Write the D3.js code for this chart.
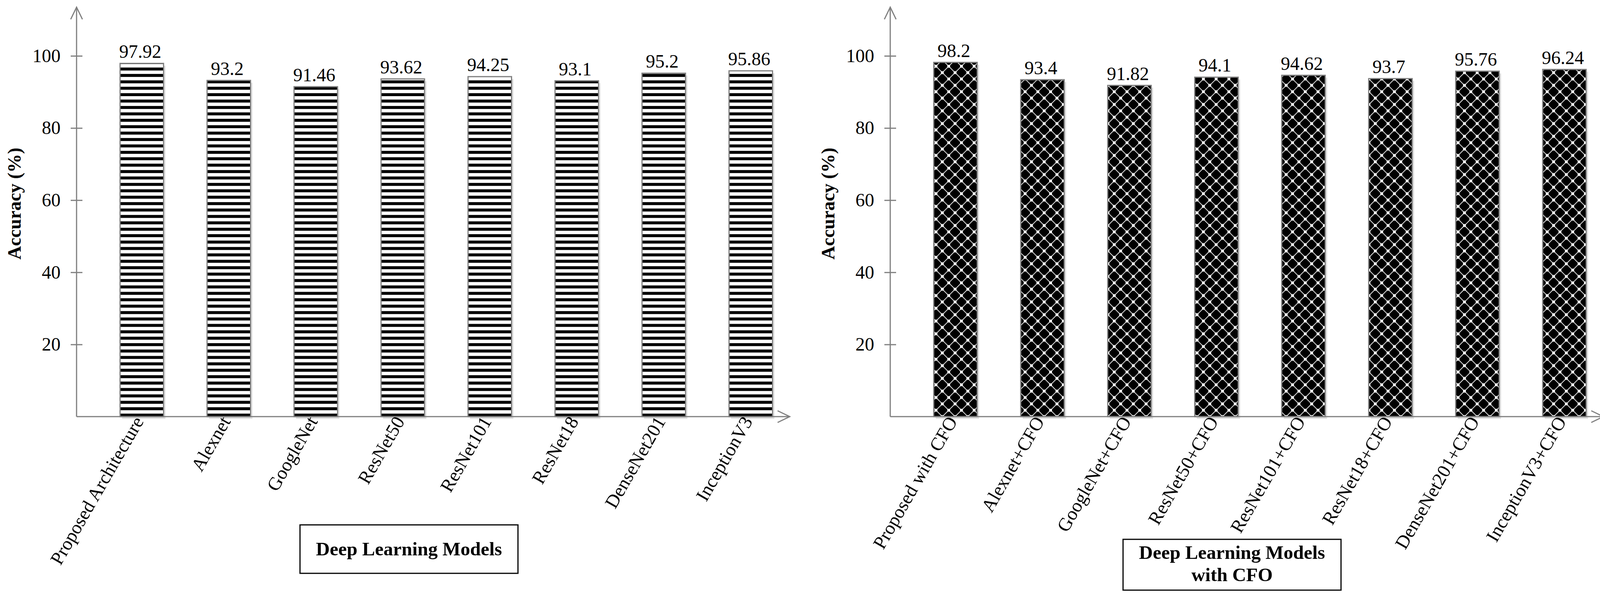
<!DOCTYPE html>
<html>
<head>
<meta charset="utf-8">
<script src="https://cdn.jsdelivr.net/npm/d3@7"></script>
<style>
  body { margin: 0; background: #fff; }
  svg { display: block; }
</style>
</head>
<body>
<div id="chart"></div>
<script>
// data
var leftCategories = ["Proposed Architecture", "Alexnet", "GoogleNet", "ResNet50", "ResNet101", "ResNet18", "DenseNet201", "InceptionV3"];
var leftValues = [97.92, 93.2, 91.46, 93.62, 94.25, 93.1, 95.2, 95.86];

var rightCategories = ["Proposed with CFO", "Alexnet+CFO", "GoogleNet+CFO", "ResNet50+CFO", "ResNet101+CFO", "ResNet18+CFO", "DenseNet201+CFO", "InceptionV3+CFO"];
var rightValues = [98.2, 93.4, 91.82, 94.1, 94.62, 93.7, 95.76, 96.24];

var yTicks = [20, 40, 60, 80, 100];
var yTitle = "Accuracy (%)";
var leftTitle = ["Deep Learning Models"];
var rightTitle = ["Deep Learning Models", "with CFO"];

var W = 4126, H = 1525;
var serif = "'Liberation Serif', 'Times New Roman', serif";
var axisGrey = "#7f7f7f";

var svg = d3.select("#chart").append("svg")
	.attr("width", W)
	.attr("height", H);

svg.append("rect").attr("width", W).attr("height", H).attr("fill", "#fff");

var defs = svg.append("defs");

// horizontal stripes (left panel)
var stripe = defs.append("pattern")
	.attr("id", "stripes")
	.attr("patternUnits", "userSpaceOnUse")
	.attr("width", 20)
	.attr("height", 16.4)
	.attr("y", 1066);
stripe.append("rect").attr("width", 20).attr("height", 16.4).attr("fill", "#fff");
stripe.append("rect").attr("y", 16.4 - 7.6).attr("width", 20).attr("height", 7.6).attr("fill", "#000");

// black trellis with white lattice (right panel)
var s = 32.6;
var trellis = defs.append("pattern")
	.attr("id", "trellis")
	.attr("patternUnits", "userSpaceOnUse")
	.attr("width", s)
	.attr("height", s)
	.attr("y", 1066);
trellis.append("rect").attr("width", s).attr("height", s).attr("fill", "#000");
trellis.append("path")
	.attr("d", "M0,0L" + s + "," + s + "M" + s + ",0L0," + s)
	.attr("stroke", "#fff")
	.attr("stroke-width", 1.8);
[[0, 0], [s, 0], [0, s], [s, s], [s / 2, s / 2]].forEach(function (p) {
	trellis.append("rect")
		.attr("x", p[0] - 3.6).attr("y", p[1] - 3.6)
		.attr("width", 7.2).attr("height", 7.2)
		.attr("fill", "#fff");
});

function drawPanel(opts) {
	var x0 = opts.axisX;
	var xEnd = opts.axisX + 1893;

	var xScale = d3.scaleBand()
		.domain(opts.categories)
		.range([x0, xEnd])
		.paddingInner(0.5)
		.paddingOuter(0.5);

	var yScale = d3.scaleLinear()
		.domain([0, 100])
		.range([1066, 143]);

	var g = svg.append("g");
	var y0 = yScale(0);
	var yTop = yScale(113.5);
	var xTip = xScale(opts.categories[7]) + xScale.bandwidth() + 44;

	// bar shadows
	g.selectAll(".shadow")
		.data(opts.values)
		.enter().append("rect")
		.attr("x", (d, i) => xScale(opts.categories[i]) + 5)
		.attr("y", d => yScale(d) + 6)
		.attr("width", xScale.bandwidth())
		.attr("height", d => y0 - yScale(d))
		.attr("fill", "#e2e2e2");

	// bars
	g.selectAll(".bar")
		.data(opts.values)
		.enter().append("rect")
		.attr("x", (d, i) => xScale(opts.categories[i]))
		.attr("y", d => yScale(d))
		.attr("width", xScale.bandwidth())
		.attr("height", d => y0 - yScale(d))
		.attr("fill", "url(#" + opts.pattern + ")")
		.attr("stroke", axisGrey)
		.attr("stroke-width", 3);

	// value labels
	g.selectAll(".val")
		.data(opts.values)
		.enter().append("text")
		.attr("x", (d, i) => xScale(opts.categories[i]) + xScale.bandwidth() / 2 - 4)
		.attr("y", d => yScale(d) - 14)
		.attr("text-anchor", "middle")
		.style("font-family", serif)
		.style("font-size", "48px")
		.attr("fill", "#000")
		.text(d => d);

	// y axis with crossing ticks
	var yAxis = g.append("g")
		.attr("transform", "translate(" + x0 + ",0)")
		.call(d3.axisLeft(yScale).tickValues(yTicks).tickSize(15).tickPadding(26));
	yAxis.select(".domain").remove();
	yAxis.selectAll(".tick line")
		.attr("x1", -15).attr("x2", 15)
		.attr("stroke", axisGrey)
		.attr("stroke-width", 3);
	yAxis.selectAll(".tick text")
		.style("font-family", serif)
		.style("font-size", "48px")
		.attr("fill", "#000");

	g.append("line")
		.attr("x1", x0).attr("x2", x0)
		.attr("y1", y0).attr("y2", yTop)
		.attr("stroke", axisGrey).attr("stroke-width", 3);
	g.append("path")
		.attr("d", "M" + (x0 - 15) + "," + (yTop + 31) + "L" + x0 + "," + yTop + "L" + (x0 + 15) + "," + (yTop + 31))
		.attr("fill", "none").attr("stroke", axisGrey).attr("stroke-width", 3);

	// x axis line with arrow
	g.append("line")
		.attr("x1", x0).attr("x2", xTip)
		.attr("y1", y0).attr("y2", y0)
		.attr("stroke", axisGrey).attr("stroke-width", 3);
	g.append("path")
		.attr("d", "M" + (xTip - 31) + "," + (y0 - 15) + "L" + xTip + "," + y0 + "L" + (xTip - 31) + "," + (y0 + 15))
		.attr("fill", "none").attr("stroke", axisGrey).attr("stroke-width", 3);

	// slanted category labels
	g.selectAll(".cat")
		.data(opts.categories)
		.enter().append("text")
		.attr("transform", d => "translate(" + (xScale(d) + xScale.bandwidth() / 2 + 6) + "," + (y0 + 12) + ") rotate(-60)")
		.attr("text-anchor", "end")
		.style("font-family", serif)
		.style("font-size", "48px")
		.attr("fill", "#000")
		.text(d => d);

	// y axis title
	g.append("text")
		.attr("transform", "translate(" + (x0 - 143) + ",521) rotate(-90)")
		.attr("text-anchor", "middle")
		.style("font-family", serif)
		.style("font-size", "48px")
		.style("font-weight", "bold")
		.attr("fill", "#000")
		.text(yTitle);

	// boxed x axis title
	var box = opts.box;
	g.append("rect")
		.attr("x", box.x).attr("y", box.y)
		.attr("width", box.w).attr("height", box.h)
		.attr("fill", "#fff")
		.attr("stroke", "#000")
		.attr("stroke-width", 3);
	g.selectAll(".boxline")
		.data(opts.title)
		.enter().append("text")
		.attr("x", box.x + box.w / 2)
		.attr("y", (d, i) => box.baseline + i * 57)
		.attr("text-anchor", "middle")
		.style("font-family", serif)
		.style("font-size", "49px")
		.style("font-weight", "bold")
		.attr("fill", "#000")
		.text(d => d);
}

drawPanel({
	axisX: 196,
	categories: leftCategories,
	values: leftValues,
	pattern: "stripes",
	title: leftTitle,
	box: { x: 768, y: 1343, w: 558, h: 124, baseline: 1421 }
});

drawPanel({
	axisX: 2279,
	categories: rightCategories,
	values: rightValues,
	pattern: "trellis",
	title: rightTitle,
	box: { x: 2875, y: 1380, w: 558, h: 130, baseline: 1430 }
});
</script>
</body>
</html>
